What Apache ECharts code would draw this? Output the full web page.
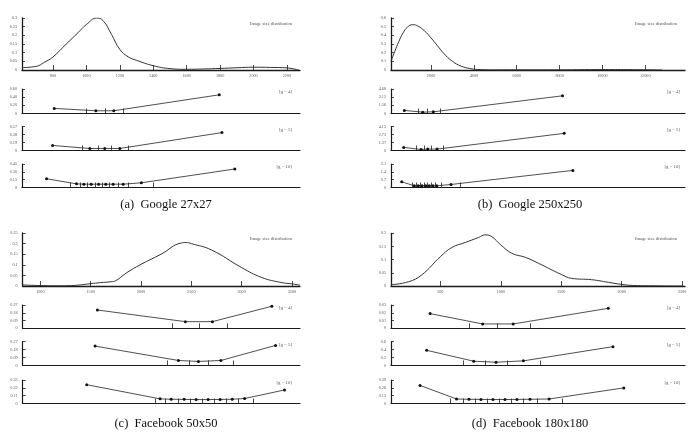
<!DOCTYPE html>
<html><head><meta charset="utf-8">
<script src="https://cdn.jsdelivr.net/npm/echarts@6/dist/echarts.min.js"></script>
<style>html,body{margin:0;padding:0;background:#fff}#c{width:689px;height:432px}</style>
</head><body><div id="c"></div>
<script>
// ---------- (a) Google 27x27 ----------
const aDensX = [615, 700, 750, 800, 880, 950, 1000, 1063, 1100, 1150, 1200, 1250, 1300, 1400, 1500, 1600, 1700, 1800, 1900, 2000, 2100, 2200, 2270];
const aDensY = [0.014, 0.021, 0.045, 0.075, 0.15, 0.215, 0.262, 0.30, 0.285, 0.206, 0.119, 0.076, 0.056, 0.025, 0.008, 0.004, 0.006, 0.009, 0.013, 0.016, 0.015, 0.012, 0.0];
const aDensYLabels = ['0', '0.05', '0.1', '0.15', '0.2', '0.25', '0.3'];
const aDensXLabels = ['800', '1000', '1200', '1400', '1600', '1800', '2000', '2200'];
const aG4X = [808, 1057, 1164, 1795];
const aG4Y = [0.125, 0.067, 0.067, 0.458];
const aG4B = [1001, 1112, 1220];
const aG4L = ['0', '0.20', '0.40', '0.60'];
const aG5X = [798, 1021, 1110, 1200, 1811];
const aG5Y = [0.12, 0.048, 0.048, 0.048, 0.425];
const aG5B = [975, 1070, 1150, 1250];
const aG5L = ['0', '0.19', '0.38', '0.57'];
const aG10X = [762, 941, 985, 1029, 1073, 1116, 1160, 1220, 1329, 1888];
const aG10Y = [0.167, 0.07, 0.064, 0.064, 0.064, 0.064, 0.064, 0.064, 0.09, 0.354];
const aG10B = [906, 961, 1005, 1051, 1094, 1138, 1190, 1250, 1403];
const aG10L = ['0', '0.15', '0.30', '0.45'];

// ---------- (b) Google 250x250 ----------
const bDensX = [131, 300, 500, 700, 900, 1145, 1400, 1700, 2000, 2300, 2600, 3000, 3400, 3800, 4200, 5000, 6000, 8000, 9000, 10000, 11000, 12000, 12800];
const bDensY = [0.10, 0.21, 0.33, 0.43, 0.495, 0.523, 0.505, 0.45, 0.37, 0.28, 0.19, 0.10, 0.045, 0.018, 0.006, 0.002, 0.002, 0.002, 0.004, 0.006, 0.005, 0.003, 0.0];
const bDensYLabels = ['0', '0.1', '0.2', '0.3', '0.4', '0.5', '0.6'];
const bDensXLabels = ['2000', '4000', '6000', '8000', '10000', '12000'];
const bG4X = [752, 1612, 2107, 8136];
const bG4Y = [0.585, 0.26, 0.325, 3.38];
const bG4B = [1407, 1846, 2407];
const bG4L = ['0', '1.56', '3.12', '4.68'];
const bG5X = [724, 1533, 1846, 2280, 8215];
const bG5Y = [0.53, 0.18, 0.24, 0.24, 2.95];
const bG5B = [1332, 1673, 2033, 2561];
const bG5L = ['0', '1.37', '2.75', '4.13'];
const bG10X = [631, 1220, 1407, 1579, 1752, 1921, 2093, 2266, 2935, 8621];
const bG10Y = [0.51, 0.15, 0.15, 0.15, 0.15, 0.15, 0.15, 0.15, 0.27, 1.53];
const bG10B = [1145, 1313, 1500, 1673, 1846, 2014, 2187, 2500, 3355];
const bG10L = ['0', '0.7', '1.4', '2.1'];

// ---------- (c) Facebook 50x50 ----------
const cDensX = [825, 1000, 1200, 1350, 1500, 1600, 1700, 1750, 1850, 2000, 2200, 2400, 2450, 2500, 2700, 3000, 3200, 3400, 3500, 3580];
const cDensY = [0.005, 0.002, 0.001, 0.003, 0.011, 0.016, 0.02, 0.025, 0.06, 0.102, 0.15, 0.203, 0.205, 0.20, 0.17, 0.087, 0.04, 0.016, 0.01, 0.004];
const cDensYLabels = ['0', '0.05', '0.1', '0.15', '0.2', '0.25'];
const cDensXLabels = ['1000', '1500', '2000', '2500', '3000', '3500'];
const cG4X = [1567, 2441, 2710, 3300];
const cG4Y = [0.212, 0.077, 0.077, 0.255];
const cG4B = [2312, 2577, 2853];
const cG4L = ['0', '0.09', '0.18', '0.27'];
const cG5X = [1544, 2372, 2571, 2794, 3337];
const cG5Y = [0.22, 0.057, 0.046, 0.057, 0.228];
const cG5B = [2266, 2478, 2664, 2918];
const cG5L = ['0', '0.09', '0.18', '0.27'];
const cG10X = [1461, 2190, 2300, 2429, 2548, 2667, 2787, 2906, 3030, 3426];
const cG10Y = [0.264, 0.065, 0.06, 0.058, 0.055, 0.055, 0.057, 0.06, 0.07, 0.19];
const cG10B = [2140, 2240, 2370, 2489, 2608, 2727, 2847, 2966, 3115];
const cG10L = ['0', '0.11', '0.22', '0.33'];

// ---------- (d) Facebook 180x180 ----------
const dDensX = [92, 236, 346, 500, 595, 705, 816, 871, 926, 1000, 1092, 1202, 1313, 1500, 1586, 1751, 1890, 2000, 2100, 2300, 2500];
const dDensY = [0.005, 0.016, 0.042, 0.111, 0.146, 0.165, 0.184, 0.194, 0.187, 0.156, 0.124, 0.109, 0.086, 0.044, 0.029, 0.024, 0.014, 0.006, 0.002, 0.0005, 0.0];
const dDensYLabels = ['0', '0.05', '0.1', '0.15', '0.2'];
const dDensXLabels = ['500', '1000', '1500', '2000', '2500'];
const dG4X = [415, 850, 1103, 1889];
const dG4Y = [0.0189, 0.0056, 0.0056, 0.0257];
const dG4B = [740, 967, 1240];
const dG4L = ['0', '0.01', '0.02', '0.03'];
const dG5X = [387, 776, 961, 1187, 1928];
const dG5Y = [0.383, 0.108, 0.083, 0.117, 0.475];
const dG5B = [690, 870, 1050, 1325];
const dG5L = ['0', '0.2', '0.4', '0.6'];
const dG10X = [332, 634, 737, 836, 936, 1035, 1134, 1242, 1400, 2018];
const dG10Y = [0.30, 0.075, 0.07, 0.068, 0.066, 0.066, 0.068, 0.07, 0.075, 0.259];
const dG10B = [580, 688, 787, 886, 986, 1085, 1184, 1300, 1507];
const dG10L = ['0', '0.13', '0.26', '0.39'];

const captions = ['(a)  Google 27x27', '(b)  Google 250x250', '(c)  Facebook 50x50', '(d)  Facebook 180x180'];
const densTitle = 'Image size distribution';
const gLabels = ['[g = 4]', '[g = 5]', '[g = 10]'];

// ---------- build ----------
const panels = [
  {dx: aDensX, dy: aDensY, dyl: aDensYLabels, dxl: aDensXLabels, xmin: 615, xmax: 2278,
   small: [[aG4X, aG4Y, aG4B, aG4L], [aG5X, aG5Y, aG5B, aG5L], [aG10X, aG10Y, aG10B, aG10L]]},
  {dx: bDensX, dy: bDensY, dyl: bDensYLabels, dxl: bDensXLabels, xmin: 131, xmax: 13855,
   small: [[bG4X, bG4Y, bG4B, bG4L], [bG5X, bG5Y, bG5B, bG5L], [bG10X, bG10Y, bG10B, bG10L]]},
  {dx: cDensX, dy: cDensY, dyl: cDensYLabels, dxl: cDensXLabels, xmin: 825, xmax: 3580,
   small: [[cG4X, cG4Y, cG4B, cG4L], [cG5X, cG5Y, cG5B, cG5L], [cG10X, cG10Y, cG10B, cG10L]]},
  {dx: dDensX, dy: dDensY, dyl: dDensYLabels, dxl: dDensXLabels, xmin: 92, xmax: 2524,
   small: [[dG4X, dG4Y, dG4B, dG4L], [dG5X, dG5Y, dG5B, dG5L], [dG10X, dG10Y, dG10B, dG10L]]}
];
const layout = [
  {left: 22, width: 278, dTop: 18, dH: 52, sm: [[89, 24.5], [126.5, 24], [164, 23.5]], capY: 205, titleY: 24, capX: 166, gX: 292},
  {left: 391, width: 294, dTop: 18, dH: 52, sm: [[89, 24.5], [126.5, 24], [164, 23.5]], capY: 205, titleY: 24, capX: 530, gX: 680},
  {left: 22.7, width: 277.3, dTop: 233, dH: 53, sm: [[305, 23.3], [341.7, 23.8], [380, 23.5]], capY: 424, titleY: 239, capX: 166, gX: 292},
  {left: 391, width: 294, dTop: 233.3, dH: 52.7, sm: [[305, 23.3], [341.7, 23.8], [380, 23.5]], capY: 424, titleY: 239, capX: 530, gX: 680}
];

const FONT = 'Liberation Serif';
const axisCol = '#1a1a1a';
const lblStyle = {fontSize: 4.2, color: '#555', fontFamily: FONT};
const grid = [], xAxis = [], yAxis = [], series = [], graphic = [];

function labelFormatter(labels) {
  const m = {};
  labels.forEach(s => { m[parseFloat(s)] = s; });
  return v => (m[v] !== undefined ? m[v] : '');
}

panels.forEach((p, pi) => {
  const L = layout[pi];
  let gi = grid.length;
  grid.push({left: L.left, top: L.dTop, width: L.width, height: L.dH, outerBoundsMode: 'none', containLabel: false});
  const dxv = p.dxl.map(parseFloat);
  const dyv = p.dyl.map(parseFloat);
  xAxis.push({type: 'value', gridIndex: gi, min: p.xmin, max: p.xmax,
    axisLine: {show: true, onZero: false, lineStyle: {color: axisCol, width: 1.3}},
    axisTick: {show: true, inside: true, length: 5, customValues: dxv, lineStyle: {color: axisCol, width: 0.8}},
    axisLabel: {show: true, customValues: dxv, margin: 4, formatter: labelFormatter(p.dxl), ...lblStyle},
    splitLine: {show: false}});
  yAxis.push({type: 'value', gridIndex: gi, min: 0, max: dyv[dyv.length - 1],
    axisLine: {show: true, onZero: false, lineStyle: {color: axisCol, width: 1.3}},
    axisTick: {show: true, inside: true, length: 3, customValues: dyv, lineStyle: {color: axisCol, width: 0.8}},
    axisLabel: {show: true, customValues: dyv, margin: 5, formatter: labelFormatter(p.dyl), ...lblStyle},
    splitLine: {show: false}});
  series.push({type: 'line', xAxisIndex: gi, yAxisIndex: gi, smooth: 0.45, showSymbol: false, symbol: 'none',
    lineStyle: {color: '#333', width: 1}, data: p.dx.map((x, i) => [x, p.dy[i]]), silent: true, animation: false});
  graphic.push({type: 'text', x: L.left + L.width - 8, y: L.titleY, style: {text: densTitle, fontSize: 4.6, fill: '#555', fontFamily: FONT, align: 'right', verticalAlign: 'middle'}});

  p.small.forEach((s, si) => {
    const [xs, ys, bs, ls] = s;
    const sm = L.sm[si];
    gi = grid.length;
    grid.push({left: L.left, top: sm[0], width: L.width, height: sm[1], outerBoundsMode: 'none', containLabel: false});
    const yv = ls.map(parseFloat);
    xAxis.push({type: 'value', gridIndex: gi, min: p.xmin, max: p.xmax,
      axisLine: {show: true, onZero: false, lineStyle: {color: axisCol, width: 1.2}},
      axisTick: {show: true, inside: true, length: 5, customValues: bs, lineStyle: {color: axisCol, width: 0.8}},
      axisLabel: {show: false}, splitLine: {show: false}});
    yAxis.push({type: 'value', gridIndex: gi, min: 0, max: yv[yv.length - 1],
      axisLine: {show: true, onZero: false, lineStyle: {color: axisCol, width: 1.2}},
      axisTick: {show: true, inside: true, length: 3, customValues: yv, lineStyle: {color: axisCol, width: 0.8}},
      axisLabel: {show: true, customValues: yv, margin: 5, formatter: labelFormatter(ls), ...lblStyle},
      splitLine: {show: false}});
    series.push({type: 'line', xAxisIndex: gi, yAxisIndex: gi, symbol: 'circle', symbolSize: 3, showSymbol: true,
      itemStyle: {color: '#111'}, lineStyle: {color: '#222', width: 0.8},
      data: xs.map((x, i) => [x, ys[i]]), silent: true, animation: false});
    graphic.push({type: 'text', x: L.gX, y: sm[0] + 3, style: {text: gLabels[si], fontSize: 4.8, fill: '#555', fontFamily: FONT, align: 'right', verticalAlign: 'middle'}});
  });
  graphic.push({type: 'text', x: L.capX, y: L.capY, style: {text: captions[pi], fontSize: 12.5, fill: '#111', fontFamily: FONT, align: 'center', verticalAlign: 'middle'}});
});

const chart = echarts.init(document.getElementById('c'), null, {renderer: 'canvas'});
chart.setOption({animation: false, backgroundColor: '#fff', grid, xAxis, yAxis, series, graphic});
</script>
</body></html>
